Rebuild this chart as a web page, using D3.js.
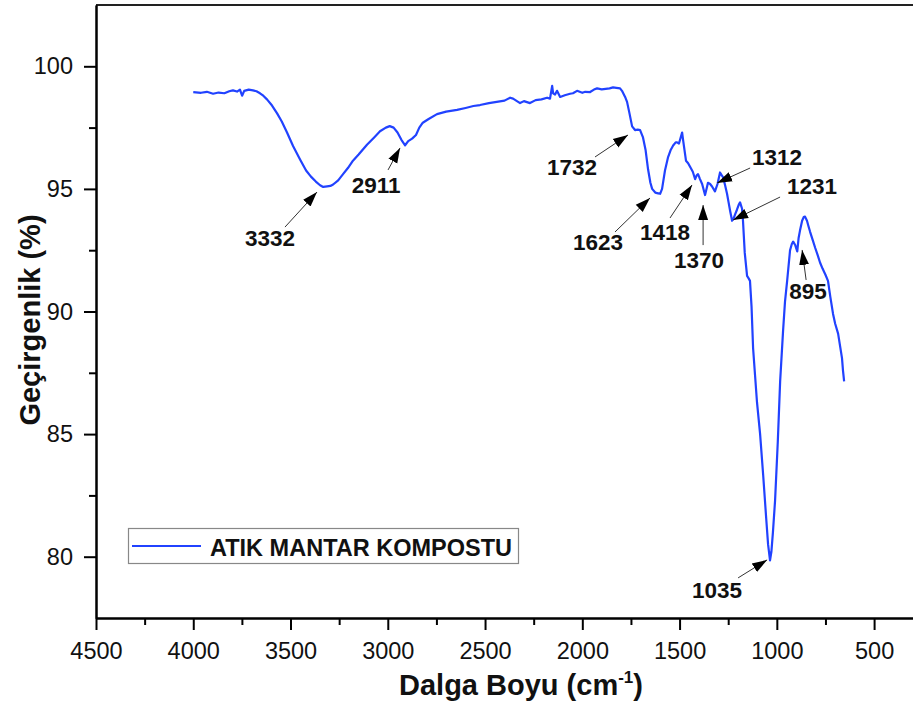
<!DOCTYPE html>
<html>
<head>
<meta charset="utf-8">
<script src="https://cdn.jsdelivr.net/npm/d3@7"></script>
<style>
  html, body { margin: 0; padding: 0; background: #fff; }
  svg { display: block; font-family: "Liberation Sans", Arial, sans-serif; }
</style>
</head>
<body>
<svg id="chart" width="913" height="711"></svg>
<script>
// FTIR spectrum: wavenumber (cm-1) and transmittance (%)
const wavenumber = [
  4000, 3960, 3930, 3898, 3870, 3840, 3815, 3796, 3775, 3760, 3749, 3738, 3715, 3693, 3675, 3657, 3640, 3621,
  3595, 3569, 3545, 3518, 3487, 3451, 3420, 3395, 3370, 3348, 3332, 3312, 3295, 3281, 3255, 3230, 3205, 3179,
  3150, 3107, 3070, 3040, 3010, 2990, 2970, 2950, 2930, 2911, 2895, 2875, 2855, 2838, 2820, 2790, 2747, 2700,
  2644, 2600, 2560, 2526, 2480, 2440, 2400, 2371, 2356, 2340, 2320, 2300, 2269, 2240, 2210, 2181, 2166, 2155,
  2150, 2140, 2130, 2114, 2090, 2063, 2048, 2027, 2000, 1985, 1960, 1940, 1924, 1900, 1880, 1860, 1842, 1825,
  1806, 1796, 1780, 1770, 1758, 1744, 1729, 1715, 1703, 1688, 1675, 1662, 1650, 1641, 1625, 1610, 1600, 1590,
  1575, 1559, 1545, 1533, 1520, 1513, 1503, 1487, 1482, 1475, 1467, 1456, 1446, 1432, 1420, 1412, 1405, 1395,
  1384, 1369, 1360, 1354, 1343, 1333, 1318, 1305, 1292, 1283, 1276, 1266, 1256, 1248, 1240, 1230, 1222, 1215,
  1205, 1196, 1189, 1183, 1179, 1174, 1165, 1153, 1145, 1138, 1130, 1122, 1112, 1102, 1086, 1070, 1055, 1045,
  1035, 1028, 1020, 1009, 995, 983, 968, 958, 947, 932, 923, 916, 905, 895, 888, 881, 870, 862,
  855, 845, 838, 829, 815, 803, 790, 778, 765, 750, 737, 725, 711, 700, 685, 675, 665, 660, 654
];
const transmittance = [
  98.95, 98.92, 98.96, 98.88, 98.93, 98.9, 98.98, 99.02, 98.97, 99.05, 98.8, 99.0, 99.05, 99.02, 98.98, 98.9, 98.8, 98.65,
  98.4, 98.08, 97.75, 97.3, 96.75, 96.2, 95.75, 95.5, 95.3, 95.15, 95.08, 95.1, 95.12, 95.18, 95.35, 95.6, 95.85, 96.15,
  96.4, 96.8, 97.1, 97.35, 97.5, 97.56, 97.5, 97.3, 97.0, 96.78, 96.95, 97.05, 97.2, 97.5, 97.7, 97.85, 98.05, 98.15,
  98.22, 98.3, 98.38, 98.42, 98.5, 98.55, 98.6, 98.72, 98.68, 98.6, 98.5, 98.58, 98.5, 98.62, 98.65, 98.72, 98.68, 99.2,
  98.9, 98.85, 99.0, 98.75, 98.82, 98.88, 98.9, 99.0, 98.92, 98.96, 98.95, 99.05, 99.1, 99.06, 99.08, 99.1, 99.14, 99.12,
  99.1, 99.0, 98.75, 98.55, 98.1, 97.55, 97.4, 97.42, 97.4, 97.1, 96.6, 95.8, 95.25, 95.0, 94.85, 94.82, 94.8, 95.0,
  95.75, 96.3, 96.6, 96.77, 96.9, 96.9, 96.85, 97.3, 97.0, 96.6, 96.15, 96.05, 95.9, 95.7, 95.4, 95.55, 95.6, 95.4,
  95.2, 94.75, 95.05, 95.25, 95.2, 95.1, 94.9, 95.2, 95.67, 95.55, 95.47, 95.15, 94.8, 94.45, 94.1, 93.7, 93.8, 93.95,
  94.15, 94.35, 94.45, 94.3, 94.2, 93.7, 92.4, 91.45, 91.35, 91.25, 90.2, 88.5, 87.4, 86.3, 85.0, 83.3, 81.6, 80.5,
  79.85, 80.2, 81.0, 82.3, 84.7, 87.15, 89.2, 90.4, 91.25, 92.5, 92.75, 92.85, 92.7, 92.45, 93.0, 93.3, 93.7, 93.85,
  93.87, 93.7, 93.5, 93.25, 92.9, 92.6, 92.3, 92.0, 91.75, 91.5, 91.25, 90.6, 89.9, 89.5, 89.1, 88.6, 88.1, 87.6, 87.15
];

const seriesName = "ATIK MANTAR KOMPOSTU";
const xMajorTicks = [4500, 4000, 3500, 3000, 2500, 2000, 1500, 1000, 500];
const xMinorTicks = [4250, 3750, 3250, 2750, 2250, 1750, 1250, 750];
const yMajorTicks = [80, 85, 90, 95, 100];
const yMinorTicks = [82.5, 87.5, 92.5, 97.5];

// Band assignments: the label, the point the arrow touches (wavenumber, %)
const peakLabels = ["3332", "2911", "1732", "1623", "1418", "1370", "1312", "1231", "1035", "895"];
const peakTipWn  = [3364, 2937, 1765, 1652, 1436, 1379, 1307, 1225, 1050, 870];
const peakTipT   = [94.87, 96.67, 97.2, 94.63, 95.16, 94.34, 95.24, 93.73, 79.87, 92.51];

// Arrow tail and text anchor offsets (px) relative to the arrow tip
const calloutLayout = [
  { tail: [-32, 35], text: [-47, 54] },
  { tail: [-12, 22], text: [-24, 45] },
  { tail: [-33, 22], text: [-56, 40] },
  { tail: [-35, 34], text: [-52, 52] },
  { tail: [-22, 33], text: [-27, 55] },
  { tail: [0, 40],   text: [-4, 63] },
  { tail: [33, -15], text: [60, -18] },
  { tail: [47, -23], text: [79, -26] },
  { tail: [-29, 18], text: [-50, 38] },
  { tail: [4, 30],   text: [6, 49] }
];

const svg = d3.select("#chart");
const plotLeft = 96, plotTop = 5, plotBottom = 618, plotRight = 913;

const x = d3.scaleLinear().domain([4500, 300]).range([plotLeft, plotRight]);
const y = d3.scaleLinear().domain([77.5, 102.5]).range([plotBottom, plotTop]);

const ink = "#000";

// Top frame line
svg.append("line")
  .attr("x1", plotLeft).attr("x2", plotRight).attr("y1", plotTop).attr("y2", plotTop)
  .attr("stroke", "#222").attr("stroke-width", 2);

// X axis
const xAxisMinor = d3.axisBottom(x).tickValues(xMinorTicks).tickSize(7).tickSizeOuter(0).tickFormat("");
const xAxis = d3.axisBottom(x).tickValues(xMajorTicks).tickSize(12).tickSizeOuter(0)
  .tickPadding(12).tickFormat(d3.format("d"));
const gxm = svg.append("g").attr("transform", `translate(0,${plotBottom})`).call(xAxisMinor);
const gx = svg.append("g").attr("transform", `translate(0,${plotBottom})`).call(xAxis);

// Y axis
const yAxisMinor = d3.axisLeft(y).tickValues(yMinorTicks).tickSize(7).tickSizeOuter(0).tickFormat("");
const yAxis = d3.axisLeft(y).tickValues(yMajorTicks).tickSize(12).tickSizeOuter(0)
  .tickPadding(11).tickFormat(d3.format("d"));
const gym = svg.append("g").attr("transform", `translate(${plotLeft},0)`).call(yAxisMinor);
const gy = svg.append("g").attr("transform", `translate(${plotLeft},0)`).call(yAxis);

[gx, gxm, gy, gym].forEach(g => {
  g.select(".domain").attr("stroke", ink).attr("stroke-width", 2);
  g.selectAll(".tick line").attr("stroke", ink).attr("stroke-width", 2);
  g.selectAll(".tick text")
    .attr("fill", "#111")
    .style("font-family", "'Liberation Sans', Arial, sans-serif")
    .style("font-size", "23.5px");
});

// Axis titles
const xTitle = svg.append("text")
  .attr("x", 521).attr("y", 695)
  .attr("text-anchor", "middle")
  .style("font-size", "29px").style("font-weight", "bold").attr("fill", "#111");
xTitle.append("tspan").text("Dalga Boyu (cm");
xTitle.append("tspan").text("-1").attr("dy", -12).style("font-size", "17px");
xTitle.append("tspan").text(")").attr("dy", 12);

svg.append("text")
  .attr("transform", "translate(40,320) rotate(-90)")
  .attr("text-anchor", "middle")
  .style("font-size", "29px").style("font-weight", "bold").attr("fill", "#111")
  .text("Geçirgenlik (%)");

// Spectrum line
const points = wavenumber.map((w, i) => [w, transmittance[i]]);
svg.append("path")
  .datum(points)
  .attr("fill", "none")
  .attr("stroke", "#2142ff")
  .attr("stroke-width", 2.2)
  .attr("stroke-linejoin", "round")
  .attr("d", d3.line().x(d => x(d[0])).y(d => y(d[1])));

// Arrowhead marker
svg.append("defs").append("marker")
  .attr("id", "arrowhead")
  .attr("markerUnits", "userSpaceOnUse")
  .attr("markerWidth", 16).attr("markerHeight", 12)
  .attr("viewBox", "0 0 16 12")
  .attr("refX", 15).attr("refY", 6)
  .attr("orient", "auto")
  .append("path")
  .attr("d", "M0,1 L15,6 L0,11 Z")
  .attr("fill", "#000");

// Callouts
const callouts = svg.append("g");
peakLabels.forEach((label, i) => {
  const tx = x(peakTipWn[i]), ty = y(peakTipT[i]);
  const lay = calloutLayout[i];
  callouts.append("line")
    .attr("x1", tx + lay.tail[0]).attr("y1", ty + lay.tail[1])
    .attr("x2", tx).attr("y2", ty)
    .attr("stroke", "#333").attr("stroke-width", 1)
    .attr("marker-end", "url(#arrowhead)");
  callouts.append("text")
    .attr("x", tx + lay.text[0]).attr("y", ty + lay.text[1])
    .attr("text-anchor", "middle")
    .style("font-size", "22.5px").style("font-weight", "bold")
    .attr("fill", "#111")
    .text(label);
});

// Legend
const legend = svg.append("g");
legend.append("rect")
  .attr("x", 128.5).attr("y", 528.5).attr("width", 390).attr("height", 35)
  .attr("fill", "#fff").attr("stroke", "#888").attr("stroke-width", 1.2);
legend.append("line")
  .attr("x1", 132).attr("x2", 201).attr("y1", 546).attr("y2", 546)
  .attr("stroke", "#2142ff").attr("stroke-width", 2.2);
legend.append("text")
  .attr("x", 210).attr("y", 556)
  .style("font-size", "23.5px").style("font-weight", "bold").attr("fill", "#111")
  .text(seriesName);
</script>
</body>
</html>
